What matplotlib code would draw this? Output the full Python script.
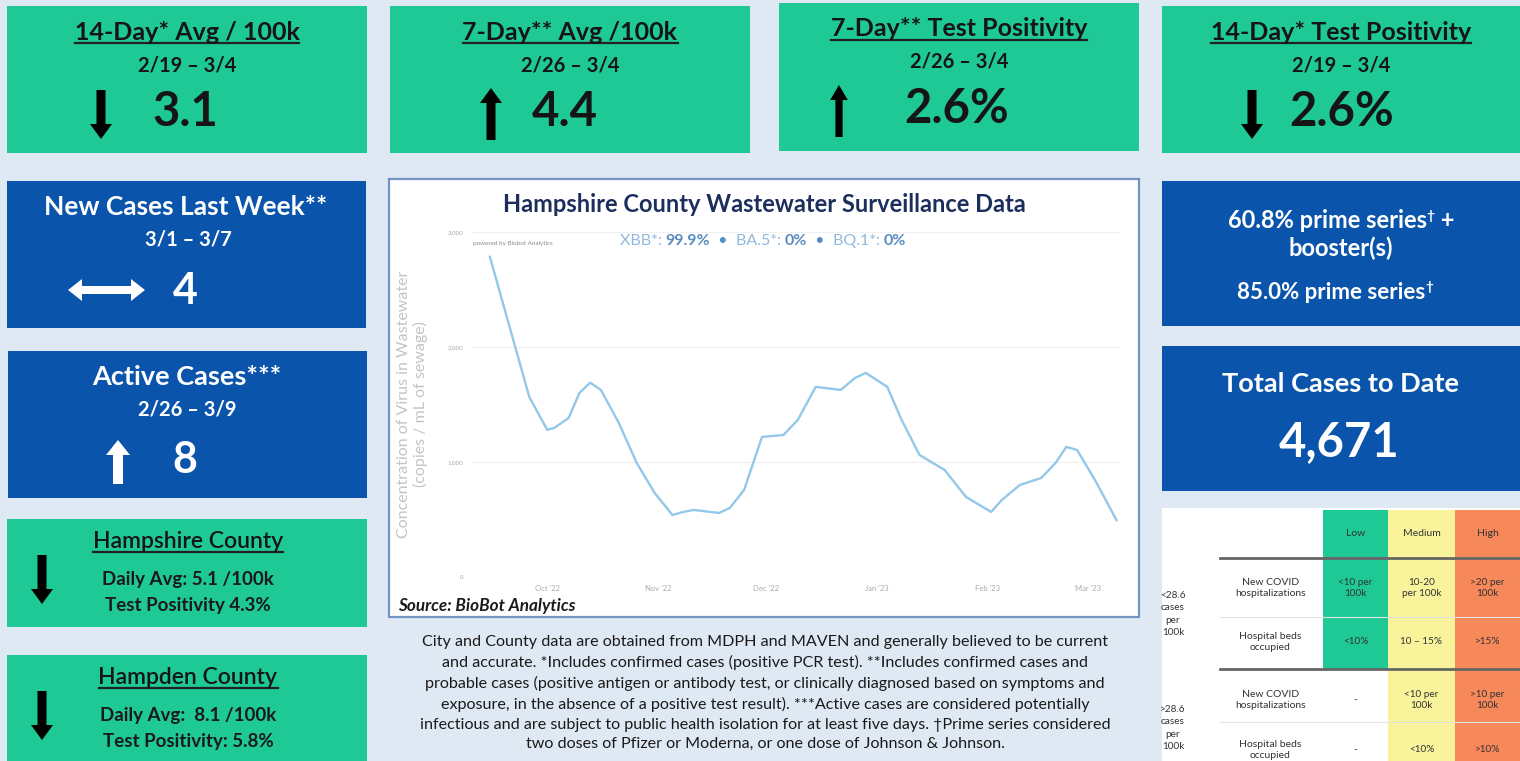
import matplotlib
matplotlib.use('Agg')
import matplotlib.pyplot as plt
from matplotlib.patches import Rectangle, FancyArrow
import pandas as pd

plt.rcParams['font.family'] = ['Lato', 'DejaVu Sans']

# wastewater line (copies / mL)
ww_dates = ['2022-09-15', '2022-09-26', '2022-10-01', '2022-10-03', '2022-10-07',
            '2022-10-10', '2022-10-13', '2022-10-16', '2022-10-21', '2022-10-26',
            '2022-10-31', '2022-11-05', '2022-11-08', '2022-11-11', '2022-11-18',
            '2022-11-21', '2022-11-25', '2022-11-30', '2022-12-06', '2022-12-10',
            '2022-12-15', '2022-12-22', '2022-12-26', '2022-12-29', '2023-01-04',
            '2023-01-08', '2023-01-13', '2023-01-20', '2023-01-26', '2023-02-02',
            '2023-02-05', '2023-02-10', '2023-02-16', '2023-02-20', '2023-02-23',
            '2023-02-26', '2023-03-03', '2023-03-09']
ww_values = [2784, 1566, 1280, 1296, 1383, 1600, 1690, 1627, 1340, 992,
             731, 539, 566, 583, 557, 600, 757, 1218, 1235, 1366,
             1653, 1627, 1731, 1775, 1653, 1366, 1061, 931, 696, 566,
             670, 800, 861, 992, 1131, 1105, 844, 496]
month_ticks = ['2022-10-01', '2022-11-01', '2022-12-01', '2023-01-01', '2023-02-01', '2023-03-01']
month_labels = ["Oct '22", "Nov '22", "Dec '22", "Jan '23", "Feb '23", "Mar '23"]
y_ticks = [0, 1000, 2000, 3000]
y_tick_labels = ['0', '1,000', '2,000', '3,000']
variant_names = ['XBB*', 'BA.5*', 'BQ.1*']
variant_shares = ['99.9%', '0%', '0%']

# metric tiles
top_titles = ['14-Day* Avg / 100k', '7-Day** Avg /100k', '7-Day** Test Positivity', '14-Day* Test Positivity']
top_dates = ['2/19 – 3/4', '2/26 – 3/4', '2/26 – 3/4', '2/19 – 3/4']
top_values = ['3.1', '4.4', '2.6%', '2.6%']
top_trend = ['down', 'up', 'up', 'down']

new_cases = '4'
active_cases = '8'
total_cases = '4,671'
boosted_pct = '60.8%'
prime_pct = '85.0%'
county_names = ['Hampshire County', 'Hampden County']
county_daily = ['Daily Avg: 5.1 /100k', 'Daily Avg:  8.1 /100k']
county_pos = ['Test Positivity 4.3%', 'Test Positivity: 5.8%']

table_levels = ['Low', 'Medium', 'High']
table_groups = ['<28.6\ncases\nper\n100k', '>28.6\ncases\nper\n100k']
table_metrics = ['New COVID\nhospitalizations', 'Hospital beds\noccupied']
table_cells = [['<10 per\n100k', '10-20\nper 100k', '>20 per\n100k'],
               ['<10%', '10 – 15%', '>15%'],
               ['-', '<10 per\n100k', '>10 per\n100k'],
               ['-', '<10%', '>10%']]

footnote = ("City and County data are obtained from MDPH and MAVEN and generally believed to be current\n"
            "and accurate. *Includes confirmed cases (positive PCR test). **Includes confirmed cases and\n"
            "probable cases (positive antigen or antibody test, or clinically diagnosed based on symptoms and\n"
            "exposure, in the absence of a positive test result). ***Active cases are considered potentially\n"
            "infectious and are subject to public health isolation for at least five days. †Prime series considered\n"
            "two doses of Pfizer or Moderna, or one dose of Johnson & Johnson.")

GREEN = '#1ec995'
BLUE = '#0a55ab'
YELLOW = '#f9f49c'
ORANGE = '#f7885a'
INK = '#151515'
W, H = 1520, 761

fig = plt.figure(figsize=(15.2, 7.61), dpi=100, facecolor='#dfe9f4')
bg = fig.add_axes([0, 0, 1, 1])
bg.set_xlim(0, W)
bg.set_ylim(H, 0)
bg.axis('off')


def box(x0, y0, x1, y1, color, **kw):
    bg.add_patch(Rectangle((x0, y0), x1 - x0, y1 - y0, facecolor=color, edgecolor='none', **kw))


def arrow(x, y0, y1, color, shaft=9, head=22, hlen=15):
    bg.add_patch(FancyArrow(x, y0, 0, y1 - y0, width=shaft, head_width=head, head_length=hlen,
                            length_includes_head=True, color=color, lw=0))


def harrow(x0, x1, y, color, shaft=8, head=22, hlen=14):
    bg.add_patch(FancyArrow(x0, y, x1 - x0, 0, width=shaft, head_width=head, head_length=hlen,
                            length_includes_head=True, color=color, lw=0))


def underlined(x, y, s, size, color=INK, weight='bold'):
    t = bg.text(x, y, s, ha='center', va='center', fontsize=size, color=color, fontweight=weight)
    fig.canvas.draw()
    bb = t.get_window_extent().transformed(bg.transData.inverted())
    yl = max(bb.y0, bb.y1) - 1
    bg.plot([bb.x0, bb.x1], [yl, yl], color='#222222', lw=1.6)
    return t


def runs(x, y, parts, ha='center'):
    # parts: (text, dy, text kwargs), laid out left to right on one baseline
    texts = [bg.text(0, y + dy, s, ha='left', va='baseline', **kw) for s, dy, kw in parts]
    fig.canvas.draw()
    widths = [t.get_window_extent().width for t in texts]
    cur = x - sum(widths) / 2 if ha == 'center' else x
    for t, w in zip(texts, widths):
        t.set_x(cur)
        cur += w


# top row tiles
top_boxes = [(7, 6, 367, 153), (390, 6, 750, 153), (779, 3, 1139, 151), (1162, 6, 1520, 153)]
arrow_x = [101, 491, 839, 1252]
value_x = [185, 565, 957, 1342]
for i, (x0, y0, x1, y1) in enumerate(top_boxes):
    box(x0, y0, x1, y1, GREEN)
    cx = (x0 + x1) / 2
    underlined(cx, y0 + 26, top_titles[i], 18)
    bg.text(cx, y0 + 59, top_dates[i], ha='center', va='center', fontsize=14.5, color=INK, fontweight='bold')
    narrow = 0.8 if i == 2 else 1.0
    if top_trend[i] == 'down':
        arrow(arrow_x[i], y0 + 84, y0 + 133, '#000000', shaft=9 * narrow, head=22 * narrow)
    else:
        arrow(arrow_x[i], y0 + 134, y0 + 82, '#000000', shaft=9 * narrow, head=22 * narrow)
    bg.text(value_x[i], y0 + 106, top_values[i], ha='center', va='center', fontsize=34,
            color=INK, fontweight='bold')

# left blue tiles
wkw = dict(color='white', fontweight='bold')
box(7, 181, 366, 328, BLUE)
bg.text(186, 207, 'New Cases Last Week**', ha='center', va='center', fontsize=19, **wkw)
bg.text(188, 240, '3/1 – 3/7', ha='center', va='center', fontsize=14.5, **wkw)
harrow(106, 68, 290, 'white')
harrow(105, 145, 290, 'white')
bg.text(185, 291, new_cases, ha='center', va='center', fontsize=31, **wkw)

box(8, 351, 367, 498, BLUE)
bg.text(187, 377, 'Active Cases***', ha='center', va='center', fontsize=19.5, **wkw)
bg.text(187, 410, '2/26 – 3/9', ha='center', va='center', fontsize=14.5, **wkw)
arrow(118, 484, 440, 'white', shaft=10, head=24, hlen=15)
bg.text(185, 460, active_cases, ha='center', va='center', fontsize=31, **wkw)

# county tiles
county_boxes = [(7, 519, 367, 627), (7, 655, 367, 761)]
for i, (x0, y0, x1, y1) in enumerate(county_boxes):
    box(x0, y0, x1, y1, GREEN)
    underlined(188, y0 + 23, county_names[i], 16.5, weight='semibold')
    bg.text(188, y0 + 60, county_daily[i], ha='center', va='center', fontsize=13.5, color='#1a1a1a', fontweight='bold')
    bg.text(188, y0 + 86, county_pos[i], ha='center', va='center', fontsize=13.5, color='#1a1a1a', fontweight='bold')
    arrow(42, y0 + 36, y0 + 85, '#000000')

# right blue tiles
box(1162, 181, 1520, 326, BLUE)
runs(1341, 228, [(boosted_pct + ' prime series', 0, dict(fontsize=17, **wkw)),
                 ('†', -8, dict(fontsize=10, **wkw)),
                 (' +', 0, dict(fontsize=17, **wkw))])
bg.text(1341, 248, 'booster(s)', ha='center', va='center', fontsize=17, **wkw)
runs(1335, 299, [(prime_pct + ' prime series', 0, dict(fontsize=16, **wkw)),
                 ('†', -8, dict(fontsize=9.5, **wkw))])

box(1162, 346, 1520, 491, BLUE)
bg.text(1340, 384, 'Total Cases to Date', ha='center', va='center', fontsize=19.5, **wkw)
bg.text(1339, 442, total_cases, ha='center', va='center', fontsize=34, **wkw)

# risk table
box(1162, 508, 1520, 761, 'white')
col_edges = [1162, 1218, 1323, 1388, 1455, 1520]
box(col_edges[2], 510, col_edges[3], 669, GREEN)
box(col_edges[3], 510, col_edges[4], 761, YELLOW)
box(col_edges[4], 510, col_edges[5], 761, ORANGE)
tkw = dict(ha='center', va='center', color='#333333', linespacing=1.3)
for j, lev in enumerate(table_levels):
    bg.text((col_edges[j + 2] + col_edges[j + 3]) / 2, 533, lev, fontsize=7.5, **tkw)
for yl in [558, 669]:
    bg.plot([1220, 1520], [yl, yl], color='#666666', lw=2)
for yl in [617, 722]:
    bg.plot([1220, 1520], [yl, yl], color='#e2e2e2', lw=0.8)
row_y = [588, 642, 700, 750]
for g, gy in enumerate([614, 728]):
    bg.text(1173, gy, table_groups[g], ha='center', va='center', color='#333333',
            linespacing=1.5, fontsize=7.2)
for r, ry in enumerate(row_y):
    bg.text((col_edges[1] + col_edges[2]) / 2, ry, table_metrics[r % 2], fontsize=7.5, **tkw)
    for j in range(3):
        bg.text((col_edges[j + 2] + col_edges[j + 3]) / 2, ry, table_cells[r][j], fontsize=7.2, **tkw)

# footnote
bg.text(765, 693, footnote, ha='center', va='center', fontsize=11.6, color='#1a1a1a',
        linespacing=1.5)

# chart panel
bg.add_patch(Rectangle((389, 179), 750, 438, facecolor='white', edgecolor='#7393c2', lw=1.6))
bg.text(764, 205, 'Hampshire County Wastewater Surveillance Data', ha='center', va='center',
        fontsize=17, color='#1c2f5c', fontweight='bold')
bg.text(513, 244, 'powered by Biobot Analytics', ha='center', va='center', fontsize=4.5, color='#8a8a8a')
light = dict(fontsize=11.5, color='#8fb9de')
dark = dict(fontsize=11.5, color='#5a8cc2', fontweight='bold')
sub = []
for k, (nm, sh) in enumerate(zip(variant_names, variant_shares)):
    if k:
        sub.append(('  •  ', 0, dict(fontsize=11.5, color='#5a8cc2')))
    sub.append((nm + ': ', 0, light))
    sub.append((sh, 0, dark))
runs(763, 245, sub)
bg.text(398, 606, 'Source: BioBot Analytics', ha='left', va='center', fontsize=12.3, color='#1a1a1a',
        fontweight='bold', style='italic')

ax = fig.add_axes([472 / W, (H - 577) / H, (1120 - 472) / W, (577 - 232) / H])
ax.set_facecolor('none')
dates = pd.to_datetime(ww_dates)
ax.plot(dates, ww_values, color='#93c8ea', lw=1.7, solid_joinstyle='round')
ax.set_ylim(0, 3000)
ax.set_xlim(pd.Timestamp('2022-09-10'), pd.Timestamp('2023-03-10'))
ax.set_yticks(y_ticks)
ax.set_yticklabels(y_tick_labels, fontsize=4.5, color='#aaaaaa')
ax.set_xticks(pd.to_datetime(month_ticks))
ax.set_xticklabels(month_labels, fontsize=5.5, color='#aaaaaa')
ax.tick_params(length=0, pad=6)
ax.grid(axis='y', color='#f0f0f0', lw=0.8)
for s in ax.spines.values():
    s.set_visible(False)
ax.set_ylabel('Concentration of Virus in Wastewater\n(copies / mL of sewage)', fontsize=11.5,
              color='#c4c4c4', labelpad=14)

fig.savefig('out.png', dpi=100, facecolor=fig.get_facecolor())
